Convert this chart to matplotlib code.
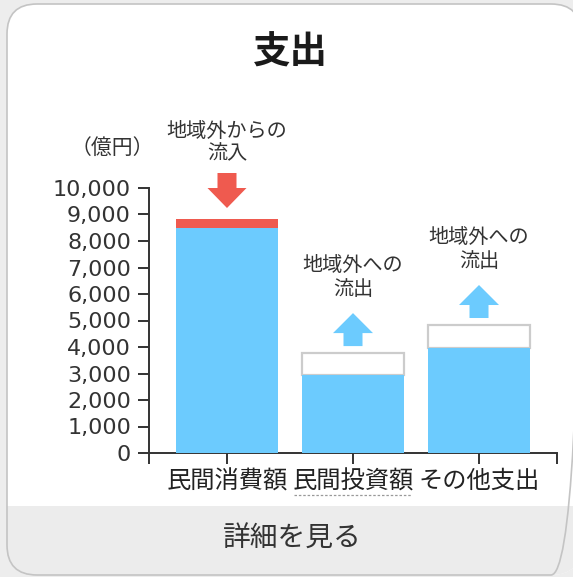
import matplotlib
matplotlib.use("Agg")
import matplotlib.pyplot as plt
import matplotlib.transforms as mtransforms
from matplotlib.patches import FancyBboxPatch, Rectangle, Polygon
from matplotlib.lines import Line2D

plt.rcParams['font.family'] = ['Noto Sans CJK JP', 'DejaVu Sans']

# data (億円)
categories = ['民間消費額', '民間投資額', 'その他支出']
domestic = [8490, 2940, 3960]
inflow = [340, 0, 0]
outflow = [0, 830, 870]
y_ticks = [0, 1000, 2000, 3000, 4000, 5000, 6000, 7000, 8000, 9000, 10000]
in_label = '地域外からの\n流入'
out_label = '地域外への\n流出'

blue = '#6ccbfe'
red = '#ef5a4f'
txt = '#333333'

fig = plt.figure(figsize=(5.73, 5.77), dpi=100)
fig.patch.set_facecolor('#ededed')

# card background in pixel coords
bg = fig.add_axes([0, 0, 1, 1])
bg.set_xlim(0, 573)
bg.set_ylim(577, 0)
bg.axis('off')
card = FancyBboxPatch((7, 4), 574, 571, boxstyle='round,pad=0,rounding_size=30',
                      facecolor='white', edgecolor='none')
bg.add_patch(card)
btn = Rectangle((7, 506), 574, 70, facecolor='#ececec', edgecolor='none')
bg.add_patch(btn)
btn.set_clip_path(card)
bg.add_patch(FancyBboxPatch((7, 4), 574, 571, boxstyle='round,pad=0,rounding_size=30',
                            facecolor='none', edgecolor='#c4c4c4', linewidth=1.2))
bg.text(290, 52, '支出', ha='center', va='center', fontsize=27, fontweight='bold', color='#1a1a1a')
bg.text(112, 148, '（億円）', ha='center', va='center', fontsize=15, color=txt)
bg.text(292, 539, '詳細を見る', ha='center', va='center', fontsize=20, color=txt)

# chart
ax = fig.add_axes([149 / 573, (577 - 453) / 577, (557 - 149) / 573, (453 - 188) / 577])
ax.set_facecolor('none')
x = list(range(len(categories)))
w = 0.817
totals = [d + i + o for d, i, o in zip(domestic, inflow, outflow)]

for xi, d, i, o in zip(x, domestic, inflow, outflow):
    if o > 0:
        ax.bar(xi, o, bottom=d, width=w, color='white', edgecolor='#cccccc', linewidth=1.6, zorder=2)
    ax.bar(xi, d, width=w, color=blue, edgecolor='none', zorder=3)
    if i > 0:
        ax.bar(xi, i, bottom=d, width=w, color=red, edgecolor='none', zorder=3)

ax.set_xlim(-0.619, 2.619)
ax.set_ylim(0, 10000)
ax.set_xticks(x)
ax.set_xticklabels(categories, fontsize=17.5, color='#222222')
ax.set_xticks([-0.619, 2.619], minor=True)
ax.set_yticks(y_ticks)
ax.set_yticklabels([f'{v:,}' for v in y_ticks], fontsize=16, color=txt, family='DejaVu Sans')
for s in ['top', 'right']:
    ax.spines[s].set_visible(False)
for s in ['left', 'bottom']:
    ax.spines[s].set_color('#333333')
    ax.spines[s].set_linewidth(1.4)
ax.tick_params(axis='both', which='both', length=8, width=1.4, color='#333333')
ax.tick_params(axis='x', pad=3)
ax.tick_params(axis='y', pad=5)

# arrows and notes above each bar
down_arrow = [(-9.5, 46), (9.5, 46), (9.5, 31), (19.5, 31), (0, 11), (-19.5, 31), (-9.5, 31)]
up_arrow = [(-9.5, 7), (9.5, 7), (9.5, 20), (20, 20), (0, 40), (-20, 20), (-9.5, 20)]
for xi, tot, i, o in zip(x, totals, inflow, outflow):
    if i > 0:
        shape, col, label, offs = down_arrow, red, in_label, (88, 65)
    elif o > 0:
        shape, col, label, offs = up_arrow, blue, out_label, (88, 64)
    else:
        continue
    tr = fig.dpi_scale_trans + mtransforms.ScaledTranslation(xi, tot, ax.transData)
    pts = [(px / 100, py / 100) for px, py in shape]
    ax.add_patch(Polygon(pts, closed=True, facecolor=col, edgecolor='none',
                         transform=tr, clip_on=False, zorder=4))
    for line, dy in zip(label.split('\n'), offs):
        ax.annotate(line, xy=(xi, tot), xytext=(0, dy), textcoords='offset pixels',
                    ha='center', va='center', fontsize=14.5, color=txt)

# dotted underline under the middle category label
fig.canvas.draw()
lab = ax.get_xticklabels()[1]
bb = lab.get_window_extent()
yl = 577 - bb.y0 + 1
bg.add_line(Line2D([bb.x0 + 2, bb.x1 - 2], [yl, yl], color='#999999', linewidth=0.9,
                   linestyle=(0, (2, 1.5))))

fig.savefig('out.png', dpi=100)
